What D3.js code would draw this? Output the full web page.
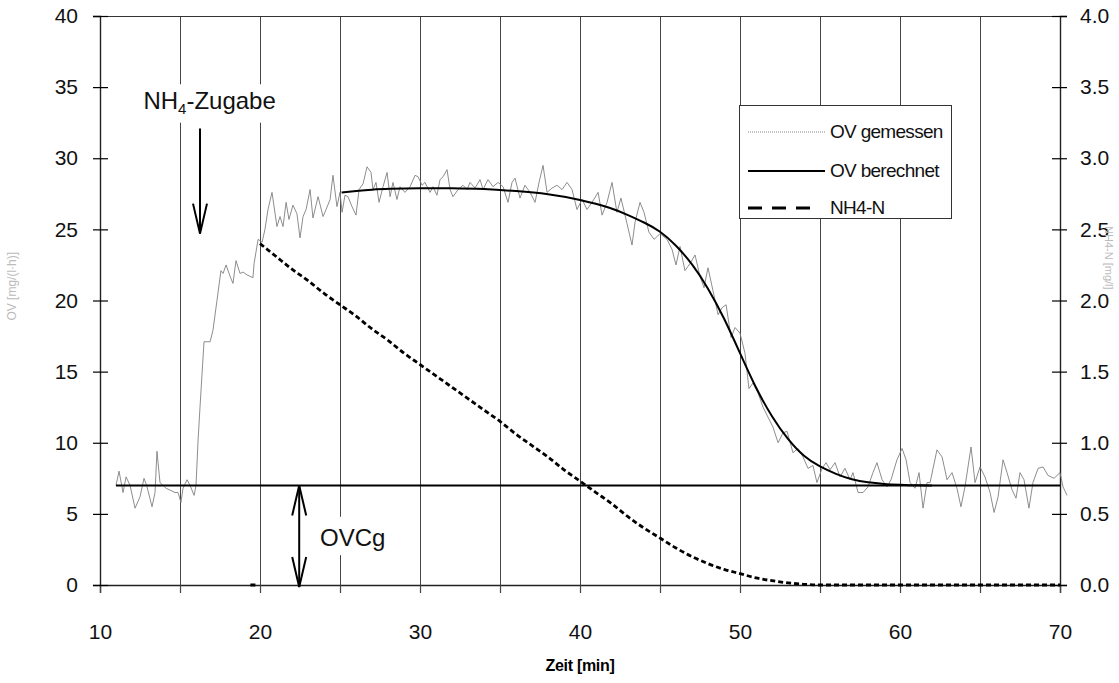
<!DOCTYPE html>
<html>
<head>
<meta charset="utf-8">
<script src="https://cdn.jsdelivr.net/npm/d3@7"></script>
<style>
body { margin: 0; background: #fff; }
text { font-family: "Liberation Sans", Arial, sans-serif; }
</style>
</head>
<body>
<script>
// OV gemessen (left axis)
var zeit = [11.00,11.19,11.44,11.63,11.88,12.19,12.50,12.75,12.94,13.25,13.44,13.56,13.75,14.13,14.69,14.88,15.06,15.19,15.44,15.63,15.88,16.00,
  16.13,16.25,16.38,16.50,16.88,17.06,17.31,17.56,17.69,17.88,18.13,18.31,18.50,18.75,18.94,19.19,19.38,19.56,19.63,19.88,20.13,20.31,20.50,20.75,
  21.06,21.25,21.44,21.63,21.81,22.06,22.31,22.50,22.69,22.88,23.13,23.31,23.63,23.94,24.13,24.38,24.56,24.81,25.00,25.13,25.31,25.50,25.75,26.00,
  26.19,26.44,26.69,26.94,27.06,27.25,27.44,27.69,27.94,28.13,28.31,28.56,28.75,29.06,29.38,29.69,29.88,30.13,30.31,30.63,30.81,31.06,31.25,31.44,
  31.69,31.88,32.06,32.38,32.69,32.94,33.13,33.44,33.75,33.94,34.25,34.56,34.88,35.19,35.50,35.75,35.94,36.25,36.56,36.88,37.19,37.44,37.69,37.94,
  38.25,38.56,38.88,39.19,39.50,39.81,40.13,40.44,40.75,41.13,41.38,41.69,42.00,42.31,42.56,42.94,43.25,43.44,43.75,44.00,44.31,44.63,45.00,45.44,
  45.75,46.00,46.25,46.56,46.88,47.19,47.50,47.75,48.00,48.31,48.63,48.88,49.13,49.44,49.69,50.00,50.31,50.56,50.81,51.13,51.44,51.75,52.06,52.38,
  52.69,52.94,53.31,53.63,53.94,54.25,54.56,54.81,55.13,55.38,55.63,55.94,56.25,56.56,56.88,57.06,57.38,57.69,58.00,58.31,58.56,58.88,59.19,59.44,
  59.81,60.13,60.38,60.63,60.94,61.19,61.44,61.69,61.88,62.31,62.63,62.94,63.25,63.56,63.81,64.06,64.44,64.69,65.00,65.31,65.63,65.88,66.13,66.44,
  66.69,67.00,67.25,67.50,67.75,68.06,68.31,68.63,68.94,69.25,69.63,70.00,70.19,70.44];
var ovGemessen = [7.0,8.0,6.5,7.6,7.0,5.4,6.2,7.5,6.9,5.5,6.5,9.4,7.2,6.8,6.5,6.5,5.8,6.8,7.4,7.0,6.3,7.0,
  10.2,12.5,14.9,17.1,17.1,17.9,20.0,22.1,21.9,22.5,21.7,21.2,22.8,21.9,22.0,21.8,21.7,21.6,22.6,24.3,24.1,25.0,26.4,27.6,
  25.2,25.9,25.2,26.9,25.7,26.7,26.1,24.4,25.9,26.4,27.8,25.8,27.3,25.9,26.4,27.1,28.8,26.6,27.6,26.2,27.4,27.3,26.6,26.0,
  27.8,28.2,29.4,29.0,27.8,28.3,26.9,28.0,29.0,27.3,28.3,27.1,28.0,27.6,28.0,28.8,28.7,28.1,28.3,27.6,28.0,27.4,28.5,28.7,
  29.2,27.8,27.3,27.8,28.1,27.8,28.3,27.9,28.5,27.8,28.5,28.0,28.3,28.0,26.9,28.3,28.6,27.2,28.1,27.6,26.9,28.3,29.5,27.6,
  27.9,28.1,27.8,28.3,27.8,26.4,27.1,26.4,26.9,27.6,26.0,26.9,28.3,26.2,27.2,25.4,23.9,25.5,26.9,26.2,24.8,24.3,24.7,24.3,
  23.6,22.5,23.8,22.1,22.6,23.2,21.7,20.9,22.3,20.7,19.0,19.5,19.7,17.4,18.1,17.7,16.3,13.8,14.2,13.5,12.5,11.8,11.1,10.0,
  10.7,10.8,9.3,9.6,9.0,8.2,8.4,7.2,8.2,8.6,8.1,8.6,7.6,8.2,7.4,7.9,6.5,6.5,6.9,7.9,8.6,7.4,6.9,7.4,
  8.8,9.6,8.8,7.2,6.8,7.9,5.4,7.2,7.2,9.5,9.0,7.4,7.9,6.8,5.5,6.9,9.7,7.2,8.3,7.6,6.5,5.1,6.2,8.8,
  7.9,6.7,6.1,7.9,7.4,5.4,7.2,8.2,8.3,7.7,7.5,7.9,6.9,6.3];

// OV berechnet (left axis)
var zeitBerechnet = [25.1,26,27,28,30,32,34,36,38,40,42,43,44,45,46,47,48,49,50,51,52,53,54,55,56,57,58,59,60,61,62];
var ovBerechnet = [27.6,27.7,27.8,27.85,27.9,27.9,27.85,27.7,27.5,27.1,26.5,26.0,25.5,24.9,23.9,22.6,20.9,18.8,16.3,13.8,11.8,10.2,9.0,8.3,7.8,7.4,7.2,7.1,7.05,7.0,7.0];

// NH4-N (right axis)
var zeitNH4 = [19.4,19.75,19.9,20,21,22,23,24,25,26,27,28,29,30,31,32,33,34,35,36,37,38,39,40,41,42,43,44,45,46,47,48,49,50,51,52,53,54,55,60,65,70];
var nh4N = [0,0,null,2.40,2.31,2.22,2.14,2.05,1.97,1.89,1.80,1.72,1.63,1.55,1.47,1.39,1.31,1.23,1.15,1.06,0.98,0.90,0.81,0.73,0.65,0.57,0.48,0.40,0.33,0.26,0.20,0.15,0.11,0.08,0.05,0.03,0.015,0.005,0,0,0,0];

// OVCg Grundlinie
var ovcgZeit = [11, 70];
var ovcgWert = 7;

var xTicks = d3.range(10, 71, 5);
var yLeftTicks = d3.range(0, 41, 5);
var yRightTicks = [0, 0.5, 1, 1.5, 2, 2.5, 3, 3.5, 4];
var legendItems = ["OV gemessen", "OV berechnet", "NH4-N"];

var margin = { top: 16, right: 59, bottom: 98, left: 100 },
    width = 1119 - margin.left - margin.right,
    height = 683 - margin.top - margin.bottom;

var svg = d3.select("body").append("svg")
    .attr("width", 1119)
    .attr("height", 683)
    .append("g")
    .attr("transform", "translate(" + margin.left + "," + margin.top + ")");

var xScale = d3.scaleLinear().domain([10, 70]).range([0, width]);
var yScale = d3.scaleLinear().domain([0, 40]).range([height, 0]);
var y2Scale = d3.scaleLinear().domain([0, 4]).range([height, 0]);

// vertical grid
svg.append("g")
    .selectAll("line")
    .data(xTicks.slice(1, -1))
    .enter().append("line")
    .attr("x1", function (d) { return xScale(d) + 0.5; })
    .attr("x2", function (d) { return xScale(d) + 0.5; })
    .attr("y1", 0)
    .attr("y2", height + 8)
    .attr("stroke", "#444")
    .attr("stroke-width", 1);

// top border
svg.append("line")
    .attr("x1", 0).attr("x2", width)
    .attr("y1", 0.5).attr("y2", 0.5)
    .attr("stroke", "#333");

var xAxis = d3.axisBottom(xScale).tickValues(xTicks).tickSize(8).tickPadding(31)
    .tickFormat(function (d) { return d % 10 === 0 ? d : ""; });
var yAxis = d3.axisLeft(yScale).tickValues(yLeftTicks).tickSize(7).tickPadding(15).tickFormat(d3.format("d"));
var y2Axis = d3.axisRight(y2Scale).tickValues(yRightTicks).tickSize(7).tickPadding(13).tickFormat(d3.format(".1f"));

var gx = svg.append("g")
    .attr("class", "x axis")
    .attr("transform", "translate(0," + height + ")")
    .call(xAxis);
var gy = svg.append("g").attr("class", "y axis").call(yAxis);
var gy2 = svg.append("g").attr("class", "y axis")
    .attr("transform", "translate(" + width + ",0)")
    .call(y2Axis);

gy.selectAll(".tick line").attr("x1", 8);
gy2.selectAll(".tick line").attr("x1", -8);
gx.selectAll(".tick line").attr("stroke", "#444");
[gx, gy, gy2].forEach(function (g) {
    g.select(".domain").attr("stroke", "#222").attr("stroke-width", 1.4);
    g.selectAll(".tick line").attr("stroke-width", 1.2);
    g.selectAll("text").attr("font-size", 21).attr("fill", "#111")
        .attr("font-family", "Liberation Sans, Arial, sans-serif");
});

// faint axis titles
svg.append("text")
    .attr("transform", "translate(" + (-84) + "," + yScale(21) + ") rotate(-90)")
    .attr("text-anchor", "middle")
    .attr("font-size", 12)
    .attr("fill", "#bbb")
    .text("OV [mg/(l·h)]");
svg.append("text")
    .attr("transform", "translate(" + (width + 45) + "," + y2Scale(2.3) + ") rotate(90)")
    .attr("text-anchor", "middle")
    .attr("font-size", 11)
    .attr("fill", "#bbb")
    .text("NH4-N [mg/l]");

svg.append("text")
    .attr("x", xScale(40))
    .attr("y", height + 86)
    .attr("text-anchor", "middle")
    .attr("font-size", 16)
    .attr("font-weight", "bold")
    .attr("letter-spacing", "-0.3px")
    .text("Zeit [min]");

// series
var ovData = zeit.map(function (t, i) { return { t: t, v: ovGemessen[i] }; });
var berData = zeitBerechnet.map(function (t, i) { return { t: t, v: ovBerechnet[i] }; });
var nh4Data = zeitNH4.map(function (t, i) { return { t: t, v: nh4N[i] }; });

var lineL = d3.line()
    .x(function (d) { return xScale(d.t); })
    .y(function (d) { return yScale(d.v); });
var lineSmooth = d3.line()
    .curve(d3.curveBasis)
    .x(function (d) { return xScale(d.t); })
    .y(function (d) { return yScale(d.v); });
var lineR = d3.line()
    .defined(function (d) { return d.v !== null; })
    .curve(d3.curveMonotoneX)
    .x(function (d) { return xScale(d.t); })
    .y(function (d) { return y2Scale(d.v); });

svg.append("path")
    .datum(ovData)
    .attr("fill", "none")
    .attr("stroke", "#808080")
    .attr("stroke-width", 0.9)
    .attr("d", lineL);

svg.append("path")
    .datum(ovcgZeit.map(function (t) { return { t: t, v: ovcgWert }; }))
    .attr("fill", "none")
    .attr("stroke", "#000")
    .attr("stroke-width", 2)
    .attr("d", lineL);

svg.append("path")
    .datum(berData)
    .attr("fill", "none")
    .attr("stroke", "#000")
    .attr("stroke-width", 2)
    .attr("d", lineSmooth);

svg.append("path")
    .datum(nh4Data)
    .attr("fill", "none")
    .attr("stroke", "#000")
    .attr("stroke-width", 2.8)
    .attr("stroke-dasharray", "5,3")
    .attr("d", lineR);

// NH4-Zugabe annotation
var zx = xScale(16.25);
svg.append("rect")
    .attr("x", xScale(12.2)).attr("y", yScale(35.2))
    .attr("width", xScale(21.5) - xScale(12.2)).attr("height", yScale(32.5) - yScale(35.2))
    .attr("fill", "#fff");
var zug = svg.append("text")
    .attr("x", xScale(16.85))
    .attr("y", yScale(33.45))
    .attr("text-anchor", "middle")
    .attr("font-size", 24)
    .attr("fill", "#111");
zug.append("tspan").text("NH");
zug.append("tspan").attr("font-size", 15).attr("dy", 5).text("4");
zug.append("tspan").attr("dy", -5).text("-Zugabe");

svg.append("line")
    .attr("x1", zx).attr("x2", zx)
    .attr("y1", yScale(32.1)).attr("y2", yScale(24.7))
    .attr("stroke", "#000").attr("stroke-width", 2);
svg.append("path")
    .attr("d", "M" + (zx - 7) + "," + (yScale(24.7) - 30) + "L" + zx + "," + yScale(24.7) + "L" + (zx + 7) + "," + (yScale(24.7) - 30))
    .attr("fill", "none").attr("stroke", "#000").attr("stroke-width", 2);

// OVCg annotation
var ox = xScale(22.45);
svg.append("rect")
    .attr("x", xScale(23.5)).attr("y", yScale(4.8))
    .attr("width", xScale(28.6) - xScale(23.5)).attr("height", yScale(2.1) - yScale(4.8))
    .attr("fill", "#fff");
svg.append("text")
    .attr("x", xScale(23.75))
    .attr("y", yScale(2.75))
    .attr("font-size", 24)
    .attr("fill", "#111")
    .text("OVCg");
svg.append("line")
    .attr("x1", ox).attr("x2", ox)
    .attr("y1", yScale(ovcgWert)).attr("y2", height + 2)
    .attr("stroke", "#000").attr("stroke-width", 2);
svg.append("path")
    .attr("d", "M" + (ox - 7) + "," + (yScale(ovcgWert) + 30) + "L" + ox + "," + yScale(ovcgWert) + "L" + (ox + 7) + "," + (yScale(ovcgWert) + 30))
    .attr("fill", "none").attr("stroke", "#000").attr("stroke-width", 2);
svg.append("path")
    .attr("d", "M" + (ox - 7) + "," + (height + 2 - 30) + "L" + ox + "," + (height + 2) + "L" + (ox + 7) + "," + (height + 2 - 30))
    .attr("fill", "none").attr("stroke", "#000").attr("stroke-width", 2);

// legend
var legend = svg.append("g").attr("transform", "translate(" + (739 - margin.left) + "," + (105 - margin.top) + ")");
legend.append("rect")
    .attr("x", 0.5).attr("y", 0.5)
    .attr("width", 212).attr("height", 113)
    .attr("fill", "#fff").attr("stroke", "#333").attr("stroke-width", 1);
var legStyles = [
    { stroke: "#888", w: 1, dash: "1,1", x2: 86 },
    { stroke: "#000", w: 2.2, dash: null, x2: 86 },
    { stroke: "#000", w: 3, dash: "14,10", x2: 78 }
];
var rowY = [27, 66, 103];
legendItems.forEach(function (name, i) {
    legend.append("line")
        .attr("x1", 9).attr("x2", legStyles[i].x2)
        .attr("y1", rowY[i]).attr("y2", rowY[i])
        .attr("stroke", legStyles[i].stroke)
        .attr("stroke-width", legStyles[i].w)
        .attr("stroke-dasharray", legStyles[i].dash);
    legend.append("text")
        .attr("x", 91).attr("y", rowY[i] + 6)
        .attr("font-size", 19)
        .attr("letter-spacing", "-0.7px")
        .attr("fill", "#111")
        .text(name);
});
</script>
</body>
</html>
